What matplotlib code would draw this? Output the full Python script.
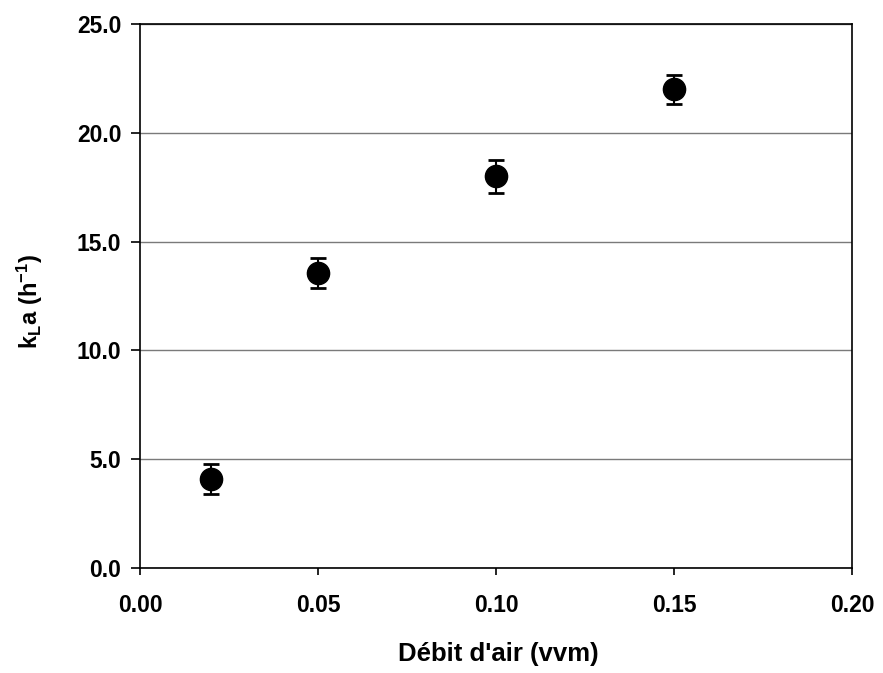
import matplotlib
matplotlib.use('Agg')
import matplotlib.pyplot as plt

# air flow (vvm) vs kLa (h-1)
debit = [0.02, 0.05, 0.10, 0.15]
kla = [4.1, 13.55, 18.0, 22.0]
kla_err = [0.68, 0.7, 0.75, 0.68]

plt.rcParams['font.family'] = ['Liberation Sans', 'DejaVu Sans']
plt.rcParams['font.weight'] = 'bold'
plt.rcParams['mathtext.fontset'] = 'custom'
plt.rcParams['mathtext.rm'] = 'Liberation Sans:bold'
plt.rcParams['mathtext.it'] = 'Liberation Sans:bold'
plt.rcParams['mathtext.bf'] = 'Liberation Sans:bold'

fig = plt.figure(figsize=(8.83, 6.73), dpi=100)
ax = fig.add_axes([0.1586, 0.156, 0.8063, 0.8083])

ax.errorbar(debit, kla, yerr=kla_err, fmt='o', color='black', ms=16,
            elinewidth=1.5, capsize=6, capthick=2, zorder=3)

ax.set_xlim(0, 0.20)
ax.set_ylim(0, 25)
ax.set_xticks([0, 0.05, 0.10, 0.15, 0.20])
ax.set_xticklabels(['0.00', '0.05', '0.10', '0.15', '0.20'])
ax.set_yticks([0, 5, 10, 15, 20, 25])
ax.set_yticklabels(['0.0', '5.0', '10.0', '15.0', '20.0', '25.0'])
ax.yaxis.grid(True, color='#7a7a7a', lw=1)
ax.set_axisbelow(True)
ax.tick_params(direction='out', width=1.2, labelsize=16.5)
ax.tick_params(axis='y', length=6.5, pad=7)
ax.tick_params(axis='x', length=5, pad=14)
for s in ax.spines.values():
    s.set_linewidth(1.2)

ax.set_xlabel("Débit d'air (vvm)", fontsize=18.5, fontweight='bold')
ax.set_ylabel(r'$\mathrm{k_{L}a\ (h^{-1})}$', fontsize=17)
ax.xaxis.set_label_coords(0.503, -0.136)
ax.yaxis.set_label_coords(-0.134, 0.49)

fig.savefig('out.png', dpi=100)
